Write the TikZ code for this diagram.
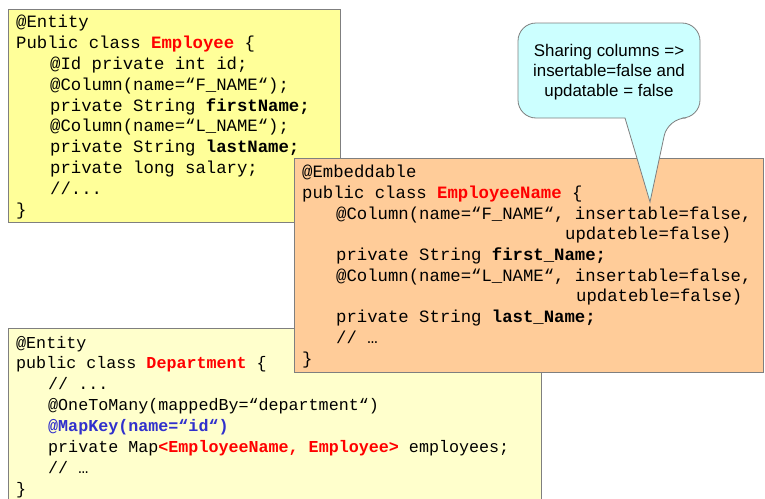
\documentclass[tikz,border=0pt]{standalone}
\usepackage{fontspec}
\setmainfont{Liberation Sans}
\setmonofont{Liberation Mono}
\usetikzlibrary{positioning}

\definecolor{empyellow}{HTML}{FFFF99}
\definecolor{deptyellow}{HTML}{FFFFCC}
\definecolor{nameorange}{HTML}{FFCC99}
\definecolor{notecyan}{HTML}{CCFFFF}
\definecolor{boxgray}{HTML}{7F7F7F}
\definecolor{keyred}{HTML}{FF0000}
\definecolor{keyblue}{HTML}{3030CC}

\newcommand{\ind}{\hspace*{34pt}}
\newcommand{\clsred}[1]{\textcolor{keyred}{\textbf{#1}}}
\newcommand{\annblue}[1]{\textcolor{keyblue}{\textbf{#1}}}

\begin{document}
\begin{tikzpicture}[x=1pt,y=-1pt,
  codebox/.style={draw=boxgray, line width=0.8pt, anchor=north west, inner sep=0pt},
  codetext/.style={anchor=base west, align=left, inner sep=0pt, font=\ttfamily\fontsize{17.3}{20.8}\selectfont},
  smallcode/.style={codetext, font=\ttfamily\fontsize{16.7}{20.85}\selectfont},
  notebubble/.style={draw=boxgray, line width=0.8pt, fill=notecyan},
  notetext/.style={align=center, inner sep=0pt, font=\fontsize{16.9}{20}\selectfont}]
\useasboundingbox (0,0) rectangle (765,498);

%employee (text anchored at the baseline of its last line)
\node[codebox, fill=empyellow, minimum width=332pt, minimum height=213pt] (employee) at (8,9) {};
\node[codetext] (employeecode) at (16,215) {@Entity\\
Public class \clsred{Employee} \{\\
\ind @Id private int id;\\
\ind @Column(name=“F\_NAME“);\\
\ind private String \textbf{firstName;}\\
\ind @Column(name=“L\_NAME“);\\
\ind private String \textbf{lastName;}\\
\ind private long salary;\\
\ind //...\\
\}};

%department
\node[codebox, fill=deptyellow, minimum width=533pt, minimum height=180pt] (department) at (8,328) {};
\node[smallcode] (departmentcode) at (16,494) {@Entity\\
public class \clsred{Department} \{\\
\hspace*{32pt}// ...\\
\hspace*{32pt}@OneToMany(mappedBy=“department“)\\
\hspace*{32pt}\annblue{@MapKey(name=“id“)}\\
\hspace*{32pt}private Map\clsred{<EmployeeName, Employee>} employees;\\
\hspace*{32pt}// …\\
\}};

%embeddable
\node[codebox, fill=nameorange, minimum width=469pt, minimum height=214pt] (empname) at (294,158) {};
\node[codetext, font=\ttfamily\fontsize{17.3}{20.67}\selectfont] (empnamecode) at (302,364) {@Embeddable\\
public class \clsred{EmployeeName} \{\\
\ind @Column(name=“F\_NAME“, insertable=false,\\
\hspace*{263pt}updateble=false)\\
\ind private String \textbf{first\_Name;}\\
\ind @Column(name=“L\_NAME“, insertable=false,\\
\hspace*{274pt}updateble=false)\\
\ind private String \textbf{last\_Name;}\\
\ind // …\\
\}};

%note
\coordinate (notetip) at (650,202);
\draw[notebubble] (609,23) [rounded corners=18pt] -| (700,118) -- (668,118) [sharp corners] -- (notetip) -- (625,118) [rounded corners=18pt] -| (518,23) -- cycle;
\node[notetext] (note) at (609,72) {Sharing columns =>\\insertable=false and\\updatable = false};

\end{tikzpicture}
\end{document}
